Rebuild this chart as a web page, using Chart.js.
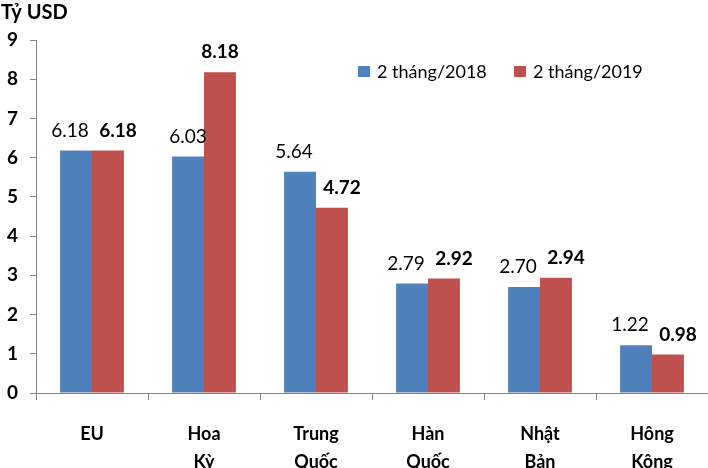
<!DOCTYPE html>
<html>
<head>
<meta charset="utf-8">
<script src="https://cdn.jsdelivr.net/npm/chart.js@4.4.1/dist/chart.umd.min.js"></script>
<style>
html, body { margin: 0; padding: 0; background: #fff; }
canvas { display: block; }
</style>
</head>
<body>
<canvas id="chart" width="708" height="468"></canvas>
<script>
/* data */
var categories = ["EU", ["Hoa", "Kỳ"], ["Trung", "Quốc"], ["Hàn", "Quốc"], ["Nhật", "Bản"], ["Hông", "Kông"]];
var seriesNames = ["2 tháng/2018", "2 tháng/2019"];
var values2018 = [6.18, 6.03, 5.64, 2.79, 2.70, 1.22];
var values2019 = [6.18, 8.18, 4.72, 2.92, 2.94, 0.98];
var yTicks = [0, 1, 2, 3, 4, 5, 6, 7, 8, 9];
var unitTitle = "Tỷ USD";

var blue = "#4F81BD";
var red = "#C0504D";
var axisColor = "#868686";
var fontName = "Lato";

// value labels, unit title and legend
var labelPlugin = {
    id: "barLabels",
    afterDatasetsDraw: function(chart) {
        var ctx = chart.ctx;
        var m0 = chart.getDatasetMeta(0);
        var m1 = chart.getDatasetMeta(1);
        ctx.save();
        ctx.fillStyle = "#000";
        ctx.textAlign = "center";
        ctx.textBaseline = "middle";
        for (var i = 0; i < categories.length; i++) {
            var a = m0.data[i], b = m1.data[i];
            var xa = a.x, xb = b.x;
            var ya = a.y - 20, yb = b.y - 20;
            // push labels apart when they would collide
            if (Math.abs(ya - yb) < 40) {
                var mid = (xa + xb) / 2 + 2;
                xa = mid - 24;
                xb = mid + 24;
            }
            ctx.font = "19px " + fontName;
            ctx.fillText(values2018[i].toFixed(2), xa, ya);
            ctx.font = "bold 19px " + fontName;
            ctx.fillText(values2019[i].toFixed(2), xb, yb);
        }

        // unit title
        ctx.textAlign = "left";
        ctx.font = "bold 20px " + fontName;
        ctx.fillText(unitTitle, 1, 13);

        // legend
        var colors = [blue, red];
        var lx = [358, 514];
        ctx.font = "18px " + fontName;
        for (var k = 0; k < 2; k++) {
            ctx.fillStyle = colors[k];
            ctx.fillRect(lx[k], 66, 12, 11);
            ctx.fillStyle = "#000";
            ctx.fillText(seriesNames[k], lx[k] + 19, 72);
        }
        ctx.restore();
    }
};

var ctx = document.getElementById("chart").getContext("2d");
window.theChart = new Chart(ctx, {
    type: "bar",
    data: {
        labels: categories,
        datasets: [{
            label: seriesNames[0],
            backgroundColor: blue,
            data: values2018
        }, {
            label: seriesNames[1],
            backgroundColor: red,
            data: values2019
        }]
    },
    options: {
        responsive: false,
        animation: false,
        categoryPercentage: 0.57,
        barPercentage: 1.0,
        layout: { padding: { top: 40, left: 0, right: 0, bottom: 0 } },
        plugins: {
            legend: { display: false },
            tooltip: { enabled: false }
        },
        scales: {
            x: {
                grid: { display: true, drawOnChartArea: false, tickLength: 7, color: axisColor, offset: true },
                border: { color: axisColor },
                ticks: {
                    color: "#000",
                    padding: 20,
                    maxRotation: 0,
                    font: { family: fontName, size: 18, weight: "bold", lineHeight: 1.55 }
                },
                afterFit: function(s) { s.height = 75; }
            },
            y: {
                min: 0,
                max: 9,
                afterBuildTicks: function(s) {
                    s.ticks = yTicks.map(function(v) { return { value: v }; });
                },
                grid: { display: true, drawOnChartArea: false, tickLength: 6, color: axisColor },
                border: { color: axisColor },
                ticks: {
                    color: "#000",
                    padding: 12,
                    font: { family: fontName, size: 19, weight: "bold" }
                },
                afterFit: function(s) { s.width = 36; }
            }
        }
    },
    plugins: [labelPlugin]
});
</script>
</body>
</html>
